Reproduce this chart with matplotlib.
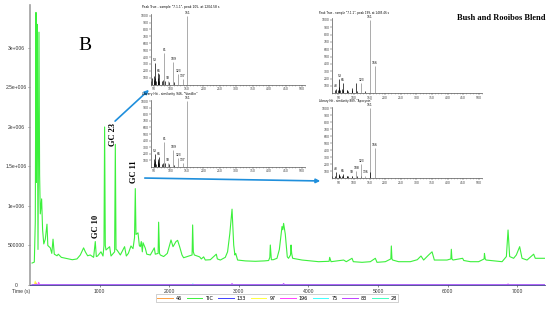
import matplotlib
matplotlib.use("Agg")
import matplotlib.pyplot as plt
from matplotlib.patches import FancyArrowPatch
from matplotlib.ticker import MultipleLocator

FIG_W, FIG_H = 550, 309

# ---- chromatogram (TIC) ----
tic_time = [30, 62, 76, 86, 92, 101, 106, 115, 129, 138, 148, 167, 181, 198, 220,
            244, 256, 292, 313, 331, 349, 388, 407, 450, 532, 608, 675, 723, 770,
            795, 828, 866, 914, 938, 953, 971, 1020, 1049, 1063, 1072, 1082, 1092,
            1144, 1164, 1216, 1226, 1236, 1250, 1298, 1359, 1384, 1413, 1451, 1480,
            1502, 1513, 1523, 1552, 1571, 1585, 1599, 1614, 1624, 1657, 1678, 1729,
            1786, 1800, 1841, 1848, 1861, 1872, 1920, 1973, 2026, 2055, 2098, 2121,
            2150, 2184, 2207, 2329, 2337, 2347, 2361, 2437, 2462, 2495, 2519, 2591,
            2677, 2692, 2735, 2806, 2839, 2871, 2903, 2927, 2944, 2956, 2983, 3094,
            3238, 3367, 3429, 3446, 3453, 3468, 3496, 3549, 3583, 3621, 3633, 3644,
            3668, 3697, 3715, 3743, 3751, 3760, 3774, 3909, 4147, 4298, 4306, 4326,
            4506, 4545, 4627, 4646, 4771, 4890, 4962, 4986, 5106, 5185, 5192, 5201,
            5211, 5297, 5465, 5565, 5618, 5656, 5728, 5777, 5810, 5896, 5992, 6047,
            6054, 6063, 6078, 6216, 6233, 6329, 6446, 6525, 6530, 6541, 6553, 6783,
            6845, 6869, 6892, 6949, 6988, 7036, 7070, 7142, 7237, 7260, 7330, 7400]
tic_counts = [278e3, 290e3, 800e3, 3.45e6, 1.3e6, 3.3e6, 2.5e6, 450e3, 3.2e6, 1.4e6,
              900e3, 1.09e6, 700e3, 520e3, 580e3, 770e3, 500e3, 470e3, 400e3, 580e3,
              390e3, 370e3, 390e3, 350e3, 335e3, 320e3, 330e3, 380e3, 470e3, 420e3,
              370e3, 380e3, 350e3, 550e3, 360e3, 367e3, 420e3, 367e3, 500e3, 2.0e6,
              500e3, 443e3, 485e3, 367e3, 420e3, 1.78e6, 450e3, 443e3, 380e3, 485e3,
              367e3, 400e3, 494e3, 460e3, 600e3, 1.22e6, 640e3, 660e3, 500e3, 485e3,
              550e3, 420e3, 535e3, 465e3, 390e3, 380e3, 470e3, 390e3, 400e3, 795e3,
              400e3, 380e3, 360e3, 400e3, 570e3, 485e3, 550e3, 565e3, 485e3, 380e3,
              345e3, 380e3, 760e3, 420e3, 380e3, 356e3, 330e3, 356e3, 316e3, 320e3,
              390e3, 330e3, 316e3, 350e3, 420e3, 650e3, 960e3, 506e3, 380e3, 400e3,
              316e3, 305e3, 300e3, 305e3, 310e3, 350e3, 506e3, 320e3, 320e3, 338e3,
              450e3, 740e3, 700e3, 780e3, 645e3, 356e3, 338e3, 380e3, 506e3, 400e3,
              338e3, 316e3, 295e3, 300e3, 350e3, 295e3, 316e3, 295e3, 338e3, 295e3,
              287e3, 295e3, 338e3, 287e3, 295e3, 330e3, 494e3, 330e3, 316e3, 295e3,
              295e3, 320e3, 367e3, 316e3, 380e3, 420e3, 316e3, 316e3, 316e3, 330e3,
              452e3, 330e3, 316e3, 338e3, 310e3, 295e3, 295e3, 330e3, 400e3, 330e3,
              316e3, 295e3, 360e3, 696e3, 360e3, 338e3, 380e3, 485e3, 338e3, 316e3,
              390e3, 338e3, 338e3, 338e3]

# ---- single-ion traces (all close to zero) ----
ion46_time = [30, 70, 85, 100, 7400]
ion46_counts = [3e3, 3e3, 30e3, 3e3, 3e3]
ion133_time = [30, 7400]
ion133_counts = [6e3, 6e3]
ion97_time = [30, 60, 75, 90, 7400]
ion97_counts = [3e3, 3e3, 50e3, 3e3, 3e3]
ion196_time = [30, 110, 125, 140, 7400]
ion196_counts = [3e3, 3e3, 35e3, 3e3, 3e3]
ion75_time = [30, 2330, 2340, 2350, 7400]
ion75_counts = [3e3, 3e3, 15e3, 3e3, 3e3]
ion83_time = [30, 2890, 2903, 2915, 3630, 3644, 3660, 6860, 6869, 6880, 7400]
ion83_counts = [4e3, 4e3, 20e3, 4e3, 4e3, 20e3, 4e3, 4e3, 15e3, 4e3, 4e3]
ion28_time = [30, 7400]
ion28_counts = [2e3, 2e3]

ion_names = ["46", "TIC", "133", "97", "196", "75", "83", "28"]
ion_colors = ["#ffa040", "#3cf03c", "#4040ff", "#ffff40", "#ff40ff", "#40ffff",
              "#c040ff", "#40ffc0"]

yticks = [0, 500000, 1000000, 1500000, 2000000, 2500000, 3000000]
ytick_labels = ["0", "500000", "1e+006", "1.5e+006", "2e+006", "2.5e+006", "3e+006"]
xticks = [1000, 2000, 3000, 4000, 5000, 6000, 7000]

# ---- mass spectra for the insets ----
van_sample_mz = [41, 43, 50, 51, 52, 53, 55, 61, 62, 63, 65, 66, 74, 77, 81, 82,
                 93, 95, 109, 110, 123, 137, 151]
van_sample_int = [60, 90, 70, 130, 90, 310, 50, 60, 90, 170, 150, 60, 60, 70, 460,
                  50, 50, 40, 330, 40, 160, 80, 1000]
van_sample_lab = [53, 65, 81, 93, 109, 123, 137, 151]

van_lib_mz = [50, 51, 52, 53, 55, 61, 62, 63, 65, 66, 74, 77, 81, 82, 93, 95, 109,
              110, 123, 137, 151]
van_lib_int = [60, 120, 80, 200, 40, 50, 80, 120, 150, 50, 40, 60, 375, 50, 50, 40,
               250, 30, 140, 50, 1000]
van_lib_lab = [53, 65, 81, 93, 109, 123, 137, 151]

apo_sample_mz = [39, 43, 50, 51, 52, 53, 55, 63, 65, 66, 77, 79, 80, 93, 94, 108,
                 109, 123, 136, 151, 166]
apo_sample_int = [40, 60, 40, 80, 60, 195, 40, 60, 140, 40, 50, 40, 30, 70, 40, 140,
                  30, 140, 30, 1000, 370]
apo_sample_lab = [43, 53, 65, 123, 151, 166]

apo_lib_mz = [29, 39, 43, 51, 52, 53, 55, 63, 65, 66, 77, 79, 80, 93, 94, 108, 109,
              122, 123, 136, 151, 152, 166]
apo_lib_int = [30, 30, 90, 60, 40, 50, 30, 40, 65, 30, 40, 30, 30, 40, 30, 100, 30,
               40, 200, 40, 1000, 90, 430]
apo_lib_lab = [43, 65, 93, 108, 123, 136, 151, 166]


def fx(px):
    return px / FIG_W


def fy(py):
    return 1 - py / FIG_H


def rect(left, top, right, bottom):
    return [fx(left), fy(bottom), (right - left) / FIG_W, (bottom - top) / FIG_H]


def draw_spectrum(ax, mz, inten, labelled, xmin):
    colors = ["#8a8a8a" if m in labelled and m > 75 else "black" for m in mz]
    ax.vlines(mz, 0, inten, colors=colors, linewidth=0.5)
    for m, v in zip(mz, inten):
        if m in labelled:
            ax.text(m, v + 15, str(m), fontsize=2.2, ha="center", va="bottom")
    ax.set_xlim(xmin, 510)
    ax.set_ylim(0, 1020)
    ax.set_xticks(range(50, 501, 50))
    ax.xaxis.set_minor_locator(MultipleLocator(10))
    ax.set_yticks(range(100, 1001, 100))
    for side in ("top", "right"):
        ax.spines[side].set_visible(False)
    for side in ("left", "bottom"):
        ax.spines[side].set_color("#555555")
        ax.spines[side].set_linewidth(0.5)
    ax.tick_params(labelsize=2.2, length=1.2, width=0.3, pad=0.4, colors="#333333")
    ax.tick_params(which="minor", length=0.6, width=0.3, colors="#555555")


fig = plt.figure(figsize=(5.5, 3.09), dpi=100)

# ---- main chromatogram ----
ax = fig.add_axes(rect(30, 5, 545, 285))
traces = {
    "46": (ion46_time, ion46_counts),
    "TIC": (tic_time, tic_counts),
    "133": (ion133_time, ion133_counts),
    "97": (ion97_time, ion97_counts),
    "196": (ion196_time, ion196_counts),
    "75": (ion75_time, ion75_counts),
    "83": (ion83_time, ion83_counts),
    "28": (ion28_time, ion28_counts),
}
handles = []
for name, color in zip(ion_names, ion_colors):
    t, c = traces[name]
    lw = 0.8 if name == "TIC" else 0.6
    (line,) = ax.plot(t, c, color=color, linewidth=lw, label=name,
                      zorder=3 if name == "TIC" else 2)
    handles.append(line)

ax.set_xlim(0, 7400)
ax.set_ylim(0, 3.544e6)
ax.set_yticks(yticks)
ax.set_yticklabels(ytick_labels)
ax.set_xticks(xticks)
ax.set_xticklabels([str(v) for v in xticks])
for lab in ax.get_yticklabels():
    lab.set_horizontalalignment("center")
ax.tick_params(axis="y", labelsize=3.6, length=1.5, width=0.4, pad=8.5,
               colors="#333333")
ax.tick_params(axis="x", labelsize=3.6, length=1.5, width=0.4, pad=1.5,
               colors="#333333")
for lab in ax.get_xticklabels() + ax.get_yticklabels():
    lab.set_family("Liberation Sans")
ax.spines["top"].set_visible(False)
ax.spines["right"].set_visible(False)
ax.spines["left"].set_color("#a0a0a0")
ax.spines["left"].set_linewidth(1.2)
ax.spines["bottom"].set_color("#3a3a8a")
ax.spines["bottom"].set_linewidth(0.6)

fig.text(fx(12), fy(292), "Time (s)", fontsize=3.6, family="Liberation Sans",
         ha="left", va="center", color="#333333")

leg = fig.legend(handles, ion_names, loc="center",
                 bbox_to_anchor=(fx(277), fy(298)), ncol=8, fontsize=3.5,
                 handlelength=3.2, handletextpad=0.6, columnspacing=1.0,
                 borderpad=0.25, frameon=True, fancybox=False)
leg.get_frame().set_edgecolor("#999999")
leg.get_frame().set_linewidth(0.4)
for lh in leg.get_lines():
    lh.set_linewidth(0.7)

# ---- annotations ----
serif = "Liberation Serif"
fig.text(fx(85), fy(45), "B", family=serif, fontsize=14, ha="center", va="center")
fig.text(fx(501), fy(18), "Bush and Rooibos Blend", family=serif, fontsize=6,
         fontweight="bold", ha="center", va="center")
fig.text(fx(113), fy(134), "GC 23", family=serif, fontsize=6, fontweight="bold",
         rotation=90, ha="center", va="center")
fig.text(fx(134), fy(172), "GC 11", family=serif, fontsize=6, fontweight="bold",
         rotation=90, ha="center", va="center")
fig.text(fx(96), fy(226), "GC 10", family=serif, fontsize=6, fontweight="bold",
         rotation=90, ha="center", va="center")

arrow_color = "#1f8fdc"
for (x0, y0), (x1, y1) in [((113, 123), (151, 88)), ((142, 178), (323, 181))]:
    fig.add_artist(FancyArrowPatch((fx(x0), fy(y0)), (fx(x1), fy(y1)),
                                   transform=fig.transFigure, arrowstyle="-|>",
                                   mutation_scale=6, color=arrow_color, lw=1.2))

# ---- inset spectra ----
ax_a1 = fig.add_axes(rect(150.7, 14.3, 305.3, 84.7))
draw_spectrum(ax_a1, van_sample_mz, van_sample_int, van_sample_lab, 40)
ax_a2 = fig.add_axes(rect(150.7, 100, 305.3, 166.7))
draw_spectrum(ax_a2, van_lib_mz, van_lib_int, van_lib_lab, 40)
ax_b1 = fig.add_axes(rect(332, 18.5, 482, 93.3))
draw_spectrum(ax_b1, apo_sample_mz, apo_sample_int, apo_sample_lab, 30)
ax_b2 = fig.add_axes(rect(332, 107, 482, 178.3))
draw_spectrum(ax_b2, apo_lib_mz, apo_lib_int, apo_lib_lab, 30)

fig.text(fx(141.7), fy(7.3), 'Peak True - sample "7.1.1", peak 105, at 1204.58 s',
         fontsize=2.2, ha="left", va="center")
fig.text(fx(141.7), fy(93.5), 'Library Hit - similarity 946, "Vanillin"',
         fontsize=2.2, ha="left", va="center")
fig.text(fx(319), fy(13), 'Peak True - sample "7.1.1", peak 199, at 1485.46 s',
         fontsize=2.0, ha="left", va="center")
fig.text(fx(319), fy(100.5), 'Library Hit - similarity 889, "Apocynin"',
         fontsize=2.0, ha="left", va="center")

fig.savefig("out.png", dpi=100)
